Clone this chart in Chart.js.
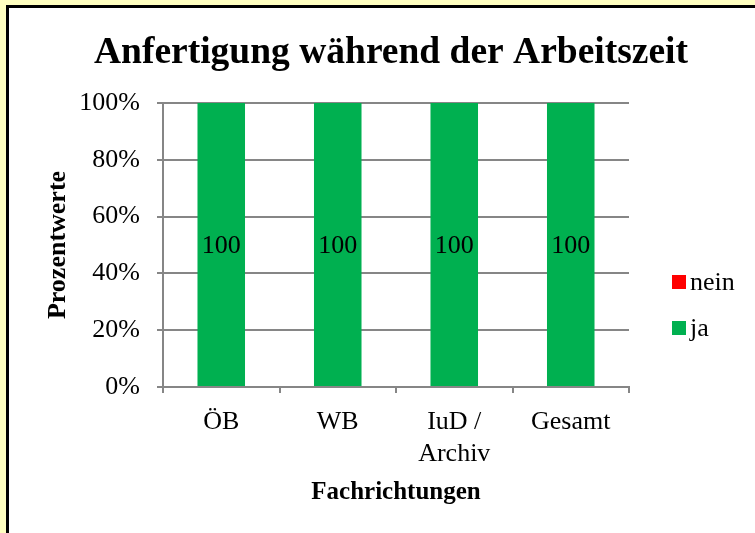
<!DOCTYPE html>
<html>
<head>
<meta charset="utf-8">
<script src="https://cdn.jsdelivr.net/npm/chart.js@4/dist/chart.umd.min.js"></script>
<style>
  html, body { margin: 0; padding: 0; background: #FFFFC0; }
  canvas { display: block; }
</style>
</head>
<body>
<canvas id="c" width="755" height="533"></canvas>
<script>
const categories = ['ÖB', 'WB', ['IuD /', 'Archiv'], 'Gesamt'];
const jaValues = [100, 100, 100, 100];
const neinValues = [0, 0, 0, 0];
const yTicks = [0, 20, 40, 60, 80, 100];

const SERIF = '"Liberation Serif", "Times New Roman", serif';

const frame = {
  id: 'frame',
  beforeDraw(chart) {
    const ctx = chart.ctx;
    ctx.save();
    ctx.fillStyle = '#FFFFC0';
    ctx.fillRect(0, 0, chart.width, chart.height);
    ctx.fillStyle = '#000000';
    ctx.fillRect(6, 5, chart.width, chart.height);
    ctx.fillStyle = '#FFFFFF';
    ctx.fillRect(9, 8, chart.width, chart.height);
    ctx.restore();
  }
};

const barLabels = {
  id: 'barLabels',
  afterDatasetsDraw(chart) {
    const ctx = chart.ctx;
    ctx.save();
    ctx.font = '26px ' + SERIF;
    ctx.fillStyle = '#000';
    ctx.textAlign = 'center';
    ctx.textBaseline = 'middle';
    chart.data.datasets.forEach((ds, di) => {
      const meta = chart.getDatasetMeta(di);
      meta.data.forEach((bar, i) => {
        const v = ds.data[i];
        if (!v) return;
        const p = bar.getProps(['x', 'y', 'base'], true);
        ctx.fillText(String(v), p.x, (p.y + p.base) / 2 + 2);
      });
    });
    ctx.restore();
  }
};

const sideLegend = {
  id: 'sideLegend',
  afterDraw(chart) {
    const ctx = chart.ctx;
    ctx.save();
    ctx.font = '26px ' + SERIF;
    ctx.textBaseline = 'middle';
    ctx.textAlign = 'left';
    const items = chart.data.datasets.slice().reverse();
    items.forEach((ds, k) => {
      const cy = 282 + k * 46;
      ctx.fillStyle = ds.backgroundColor;
      ctx.fillRect(672, cy - 7, 14, 14);
      ctx.fillStyle = '#000';
      ctx.fillText(ds.label, 690, cy + 1);
    });
    ctx.restore();
  }
};

new Chart(document.getElementById('c'), {
  type: 'bar',
  data: {
    labels: categories,
    datasets: [
      { label: 'ja', data: jaValues, backgroundColor: '#00B050', barPercentage: 0.8, categoryPercentage: 0.51 },
      { label: 'nein', data: neinValues, backgroundColor: '#FF0000', barPercentage: 0.8, categoryPercentage: 0.51 }
    ]
  },
  options: {
    responsive: false,
    animation: false,
    devicePixelRatio: 1,
    layout: { padding: { left: 27, right: 0, top: 0, bottom: 0 } },
    plugins: {
      legend: { display: false },
      tooltip: { enabled: false },
      title: {
        display: true,
        text: 'Anfertigung während der Arbeitszeit',
        color: '#000',
        font: { family: SERIF, size: 37.5, weight: 'bold' },
        padding: { top: 31, bottom: 27 }
      }
    },
    scales: {
      x: {
        stacked: true,
        afterFit(scale) { scale.height = 146; },
        grid: { display: true, drawOnChartArea: false, drawTicks: true, tickLength: 6, color: '#868686', lineWidth: 2, offset: true },
        border: { display: true, color: '#868686', width: 2 },
        ticks: { color: '#000', font: { family: SERIF, size: 26, lineHeight: 1.23 }, padding: 13, maxRotation: 0, autoSkip: false },
        title: {
          display: true, text: 'Fachrichtungen', color: '#000',
          font: { family: SERIF, size: 25, weight: 'bold' },
          padding: { top: 0, bottom: 25 }
        }
      },
      y: {
        stacked: true,
        min: 0, max: 100,
        afterFit(scale) { scale.width = 136; },
        afterBuildTicks(scale) { scale.ticks = yTicks.map(v => ({ value: v })); },
        grid: { color: '#868686', lineWidth: 2, drawTicks: true, tickLength: 6 },
        border: { display: true, color: '#868686', width: 2 },
        ticks: { color: '#000', font: { family: SERIF, size: 26 }, padding: 17, callback: v => v + '%' },
        title: {
          display: true, text: 'Prozentwerte', color: '#000',
          font: { family: SERIF, size: 26, weight: 'bold' },
          padding: { top: 16, bottom: 0 }
        }
      },
      spacer: {
        type: 'linear',
        position: 'right',
        display: true,
        afterFit(scale) { scale.width = 126; },
        grid: { display: false, drawOnChartArea: false },
        border: { display: false },
        ticks: { display: false }
      }
    }
  },
  plugins: [frame, barLabels, sideLegend]
});
</script>
</body>
</html>
